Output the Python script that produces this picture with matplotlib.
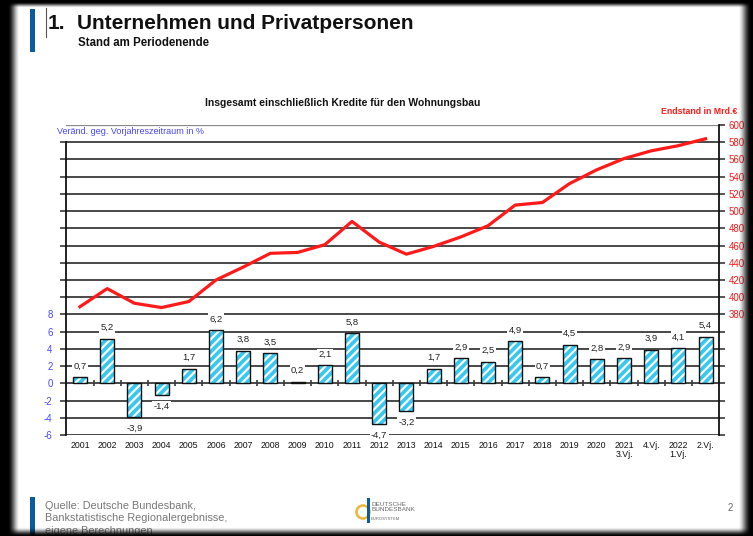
import numpy as np
import matplotlib
matplotlib.use("Agg")
import matplotlib.pyplot as plt
from matplotlib.patches import Rectangle, Ellipse

plt.rcParams['font.family'] = ['Liberation Sans', 'DejaVu Sans']
plt.rcParams['hatch.linewidth'] = 1.6

# ---- data ----
categories = ['2001', '2002', '2003', '2004', '2005', '2006', '2007', '2008', '2009', '2010',
              '2011', '2012', '2013', '2014', '2015', '2016', '2017', '2018', '2019', '2020',
              '2021\n3.Vj.', '4.Vj.', '2022\n1.Vj.', '2.Vj.']
growth_pct = [0.7, 5.2, -3.9, -1.4, 1.7, 6.2, 3.8, 3.5, 0.2, 2.1, 5.8, -4.7, -3.2, 1.7,
              2.9, 2.5, 4.9, 0.7, 4.5, 2.8, 2.9, 3.9, 4.1, 5.4]
stock_bn = [389, 410, 393, 388, 395, 420, 435, 451, 452, 461, 488, 464, 450, 459,
            470, 483, 507, 510, 532, 548, 561, 570, 576, 584]
left_ticks = [-6, -4, -2, 0, 2, 4, 6, 8]
right_ticks = [380, 400, 420, 440, 460, 480, 500, 520, 540, 560, 580, 600]

W, H = 753, 536
fig = plt.figure(figsize=(W / 100, H / 100), dpi=100)
fig.patch.set_facecolor('white')

def fx(x):
    return x / W

def fy(y):
    return 1 - y / H

BLUE_BB = '#0b5c9e'
AX_BLUE = '#4646ff'
RED = '#ff1a1a'
GRID = '#3a3a3a'

# ---- header ----
fig.patches.append(Rectangle((fx(30), fy(52)), 5 / W, 43 / H, transform=fig.transFigure,
                             facecolor=BLUE_BB, edgecolor='none'))
fig.add_artist(plt.Line2D([fx(46), fx(46)], [fy(8), fy(37)], transform=fig.transFigure,
                          color='#555555', lw=0.8))
fig.text(fx(47.5), fy(28.5), '1.', fontsize=15, fontweight='bold', va='baseline', ha='left', color='#111111')
fig.text(fx(77), fy(28.5), 'Unternehmen und Privatpersonen', fontsize=15, fontweight='bold',
         va='baseline', ha='left', color='#111111')
fig.text(fx(78), fy(46.5), 'Stand am Periodenende', fontsize=8.3, fontweight='bold',
         va='baseline', ha='left', color='#111111')

# ---- chart ----
left_px, right_px = 66.4, 719.2
top_px, bot_px = 125.0, 435.0
ax = fig.add_axes([fx(left_px), fy(bot_px), (right_px - left_px) / W, (bot_px - top_px) / H])
ax.set_facecolor('none')
n = len(categories)
xs = np.arange(n)
ax.set_xlim(-0.5, n - 0.5)
ax.set_ylim(-6, 30)

# gridlines
for lvl in range(-6, 29, 2):
    ax.axhline(lvl, color=GRID, lw=1.3, zorder=1)
ax.axhline(30, color='#8a8a8a', lw=0.9, zorder=1)

# bars: cyan with white hatch and black outline
ax.bar(xs, growth_pct, width=0.52, color='#36c8f0', edgecolor='white', hatch='////',
       linewidth=0, zorder=3)
ax.bar(xs, growth_pct, width=0.52, color='none', edgecolor='#111111', linewidth=1.0, zorder=4)

# zero-line ticks at category boundaries
ax.vlines(np.arange(n + 1) - 0.5, -0.35, 0.35, color=GRID, lw=1.2, zorder=2)

# value labels
for xi, v in zip(xs, growth_pct):
    off = 8 if v >= 0 else -8
    ax.annotate(f'{v:.1f}'.replace('.', ','), (xi, v), xytext=(0, off), textcoords='offset points',
                ha='center', va='center', fontsize=6.8, color='#222222', zorder=6,
                bbox=dict(boxstyle='square,pad=0.12', facecolor='white', edgecolor='none'))

# spines and ticks (left)
for s in ['top', 'bottom', 'right']:
    ax.spines[s].set_visible(False)
ax.spines['left'].set_bounds(-6, 28)
ax.spines['left'].set_color('#111111')
ax.spines['left'].set_linewidth(1.3)
ax.set_yticks(list(range(-6, 29, 2)))
ax.set_yticklabels([str(t) if t in left_ticks else '' for t in range(-6, 29, 2)])
ax.tick_params(axis='y', direction='out', length=4, width=1.2, color=GRID, labelsize=7,
               labelcolor=AX_BLUE, pad=6)
ax.set_xticks(xs)
ax.set_xticklabels(categories, fontsize=6.3, color='#111111', linespacing=1.05)
ax.tick_params(axis='x', length=0, pad=4)

# right axis with stock line
ax2 = ax.twinx()
ax2.set_ylim(240, 600)
ax2.set_xlim(-0.5, n - 0.5)
ax2.plot(xs, stock_bn, color=RED, lw=2.3, zorder=5, solid_joinstyle='round')
for s in ['top', 'bottom', 'left']:
    ax2.spines[s].set_visible(False)
ax2.spines['right'].set_color('#111111')
ax2.spines['right'].set_linewidth(1.3)
all_r = list(range(240, 601, 20))
ax2.set_yticks(all_r)
ax2.set_yticklabels([str(t) if t in right_ticks else '' for t in all_r])
ax2.tick_params(axis='y', direction='out', length=4, width=1.2, color=GRID, labelsize=7,
                labelcolor=RED, pad=3)

# chart texts
fig.text(fx(343), fy(103), 'Insgesamt einschließlich Kredite für den Wohnungsbau', fontsize=7.5,
         fontweight='bold', ha='center', va='center', color='#111111')
fig.text(fx(737), fy(112), 'Endstand in Mrd.€', fontsize=6.3, fontweight='bold', ha='right',
         va='center', color=RED)
fig.text(fx(57), fy(132), 'Veränd. geg. Vorjahreszeitraum in %', fontsize=6.5, ha='left',
         va='center', color=AX_BLUE)

# ---- footer ----
fig.patches.append(Rectangle((fx(30), fy(536)), 5 / W, 39 / H, transform=fig.transFigure,
                             facecolor=BLUE_BB, edgecolor='none'))
fig.text(fx(45), fy(501), 'Quelle: Deutsche Bundesbank,\nBankstatistische Regionalergebnisse,\neigene Berechnungen',
         fontsize=7.8, ha='left', va='top', color='#777777', linespacing=1.3)
fig.patches.append(Ellipse((fx(363), fy(512)), 13 / W, 13 / H, transform=fig.transFigure,
                           facecolor='none', edgecolor='#e8b830', lw=1.8))
fig.patches.append(Rectangle((fx(367), fy(523)), 2.5 / W, 25 / H, transform=fig.transFigure,
                             facecolor=BLUE_BB, edgecolor='none'))
fig.text(fx(371), fy(502), 'DEUTSCHE\nBUNDESBANK', fontsize=4.6, ha='left', va='top',
         color='#666666', linespacing=1.1)
fig.text(fx(371), fy(517), 'EUROSYSTEM', fontsize=3.0, ha='left', va='top', color='#666666')
fig.text(fx(730), fy(508), '2', fontsize=7, ha='center', va='center', color='#666666')

# ---- dark vignette frame ----
def ramp(d, w):
    t = np.clip(d / w, 0, 1)
    return t * t * (3 - 2 * t)

px = np.arange(W) + 0.5
py = np.arange(H) + 0.5
mx = ramp(px - 8, 12) * ramp(751 - px, 13)
my = ramp(py - 2, 6) * ramp(536 - py, 9)
rgba = np.zeros((H, W, 4))
rgba[..., 3] = 1 - np.outer(my, mx)
ov = fig.add_axes([0, 0, 1, 1], zorder=20)
ov.imshow(rgba, extent=(0, W, H, 0), aspect='auto', interpolation='bilinear')
ov.set_xlim(0, W)
ov.set_ylim(H, 0)
ov.axis('off')

fig.savefig('out.png', dpi=100)
